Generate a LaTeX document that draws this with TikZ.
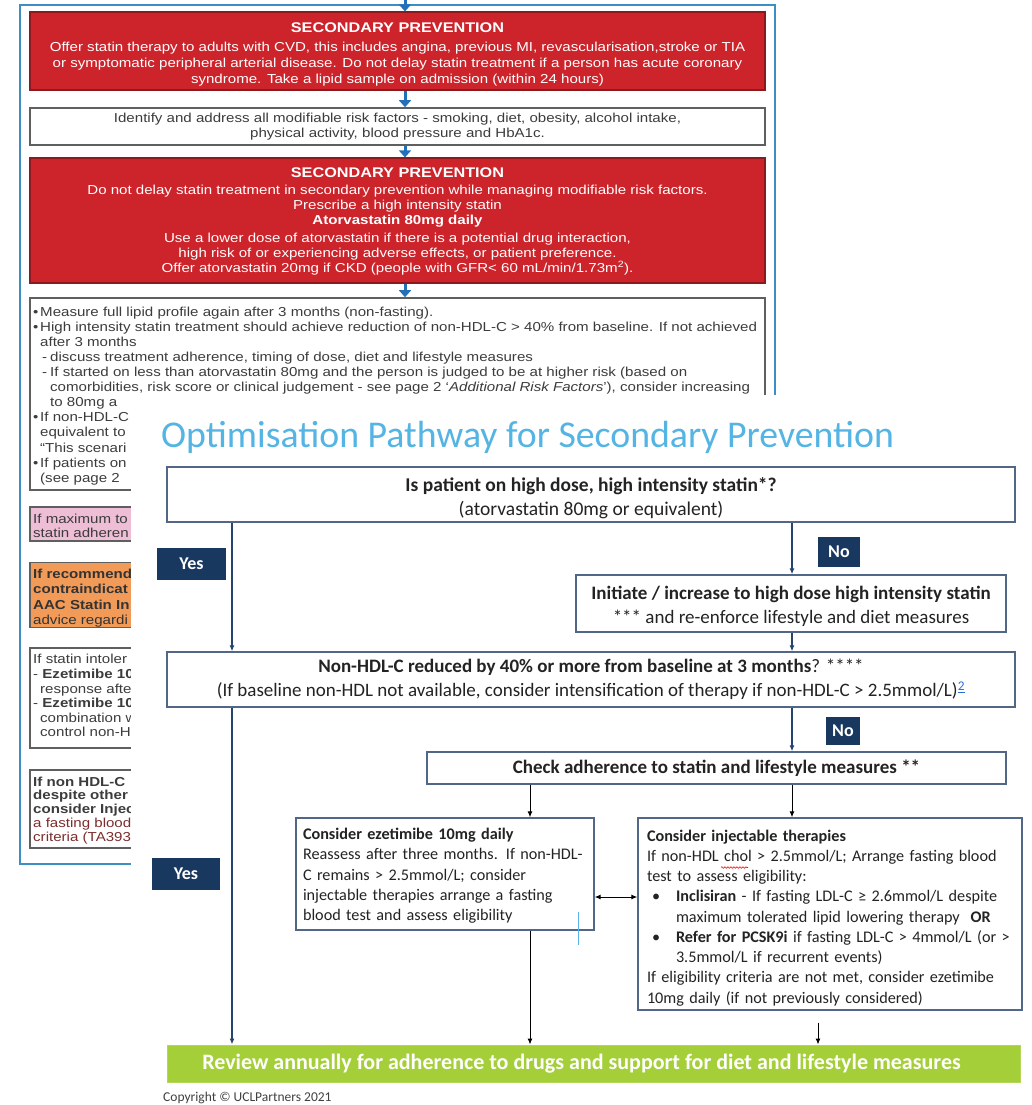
\documentclass[tikz,border=0pt]{standalone}
\usepackage{fontspec}
\setmainfont{Carlito}
\newfontfamily\docfont[FakeStretch=1.16]{Liberation Sans}
\usetikzlibrary{arrows.meta,calc,decorations.pathmorphing}

% palette
\definecolor{panelred}{RGB}{205,35,42}
\definecolor{panelrededge}{RGB}{140,25,30}
\definecolor{docarrowblue}{RGB}{36,112,182}
\definecolor{docframeblue}{RGB}{62,142,198}
\definecolor{docedge}{RGB}{95,95,95}
\definecolor{doctext}{RGB}{60,60,60}
\definecolor{notepink}{RGB}{238,190,214}
\definecolor{noteorange}{RGB}{242,155,88}
\definecolor{notered}{RGB}{125,45,45}
\definecolor{titleblue}{RGB}{84,180,228}
\definecolor{boxedge}{RGB}{82,102,136}
\definecolor{tagnavy}{RGB}{24,56,96}
\definecolor{railblue}{RGB}{38,68,110}
\definecolor{reviewgreen}{RGB}{165,207,57}
\definecolor{bodytext}{RGB}{35,35,35}
\definecolor{linkblue}{RGB}{40,110,220}
\definecolor{cursorblue}{RGB}{90,180,235}

\newcommand\fsz[2]{\fontsize{#1}{#2}\selectfont}
% raises the first line box so the text block sits a little lower
\newcommand\toppad[1]{\rule{0pt}{#1}}

\tikzset{
  docframe/.style={draw=docframeblue, line width=1.5pt},
  docarrow/.style={draw=docarrowblue, line width=3pt, -{Triangle[length=7pt,width=12pt]}},
  redpanel/.style={fill=panelred, draw=panelrededge, line width=1.2pt, minimum width=735pt, inner sep=0pt},
  notepanel/.style={draw=docedge, line width=1.6pt, minimum width=735pt, inner sep=0pt, fill=white},
  doctitle/.style={font=\docfont\bfseries\fsz{14}{16}, text=white, inner sep=0pt, anchor=base},
  redtext/.style={font=\docfont\fsz{13}{16}, text=white, align=center, inner sep=0pt, anchor=north},
  doctextc/.style={font=\docfont\fsz{13}{15}, text=doctext, align=center, inner sep=0pt, anchor=north},
  doctextl/.style={font=\docfont\fsz{13}{15}, text=doctext, align=left, inner sep=0pt, anchor=north west},
  stepbox/.style={draw=boxedge, line width=1.3pt, fill=white, inner sep=0pt, text=bodytext, align=center},
  notebox/.style={stepbox, align=left, font=\fsz{16.2}{20.25}},
  tag/.style={fill=tagnavy, text=white, font=\bfseries\fsz{18}{20}, inner sep=0pt},
  rail/.style={draw=railblue, line width=1.3pt, -{Latex[length=6pt,width=5pt]}},
  link/.style={draw=black, line width=1pt, -{Latex[length=6pt,width=5pt]}},
  reviewbox/.style={fill=reviewgreen, draw=reviewgreen!85!white, line width=1pt, text=white,
    font=\bfseries\fsz{22}{24}, minimum width=853pt, minimum height=37pt, inner sep=0pt},
  spellmark/.style={draw=red, line width=0.6pt, decorate, decoration={snake, amplitude=0.8pt, segment length=3pt}},
}

\begin{document}
\begin{tikzpicture}[x=1pt,y=-1pt]
\useasboundingbox (0,0) rectangle (1031,1105);

% ---------- underlying guideline sheet ----------
\draw[docframe] (20,5) rectangle (775,864);
\coordinate (docaxis) at (405,0);
\coordinate (sheettop) at (405,-2);

\node[redpanel, minimum height=78pt] (sp1) at (397.5,51) {};
\node[doctitle] (sp1title) at (397.5,33) {SECONDARY PREVENTION};
\node[redtext] (sp1body) at (397.5,39.8) {\strut Offer statin therapy to adults with CVD, this includes angina, previous MI, revascularisation,stroke or TIA\\
or symptomatic peripheral arterial disease. Do not delay statin treatment if a person has acute coronary\\
syndrome. Take a lipid sample on admission (within 24 hours)};

\node[notepanel, minimum height=37pt] (riskf) at (397.5,126.5) {};
\node[doctextc] (riskftext) at (397.5,111.5) {\strut Identify and address all modifiable risk factors - smoking, diet, obesity, alcohol intake,\\
physical activity, blood pressure and HbA1c.};

\node[redpanel, minimum height=125pt] (sp2) at (397.5,220.5) {};
\node[doctitle] (sp2title) at (397.5,177) {SECONDARY PREVENTION};
\node[redtext, font=\docfont\fsz{13}{15}] (sp2body) at (397.5,183.5) {\strut Do not delay statin treatment in secondary prevention while managing modifiable risk factors.\\
Prescribe a high intensity statin\\
\textbf{Atorvastatin 80mg daily}\\[3pt]
Use a lower dose of atorvastatin if there is a potential drug interaction,\\
high risk of or experiencing adverse effects, or patient preference.\\
Offer atorvastatin 20mg if CKD (people with GFR< 60 mL/min/1.73m\textsuperscript{2}).};

\node[notepanel, minimum height=192pt] (lipid) at (397.5,394) {};
\node[doctextl, font=\docfont\fsz{13}{15.1}] (lipidtext) at (33,305.4) {\strut\makebox[7pt][l]{•}Measure full lipid profile again after 3 months (non-fasting).\\
\makebox[7pt][l]{•}High intensity statin treatment should achieve reduction of non-HDL-C > 40\% from baseline. If not achieved\\
\hspace*{7pt}after 3 months\\
\hspace*{9pt}\makebox[8pt][l]{-}discuss treatment adherence, timing of dose, diet and lifestyle measures\\
\hspace*{9pt}\makebox[8pt][l]{-}If started on less than atorvastatin 80mg and the person is judged to be at higher risk (based on\\
\hspace*{17pt}comorbidities, risk score or clinical judgement - see page 2 ‘\textit{Additional Risk Factors}’), consider increasing\\
\hspace*{17pt}to 80mg a\\
\makebox[7pt][l]{•}If non-HDL-C\\
\hspace*{7pt}equivalent to\\
\hspace*{7pt}“This scenari\\
\makebox[7pt][l]{•}If patients on\\
\hspace*{7pt}(see page 2};

\node[notepanel, fill=notepink, minimum height=34pt] (maxtol) at (397.5,524) {};
\node[doctextl, font=\docfont\fsz{13}{14}] (maxtoltext) at (33,513) {\strut If maximum to\\ statin adheren};

\node[notepanel, fill=noteorange, minimum height=65pt] (recom) at (397.5,595) {};
\node[doctextl, font=\docfont\fsz{13}{15.5}, text=black!80] (recomtext) at (33,567) {\strut\textbf{If recommend}\\ \textbf{contraindicat}\\ \textbf{AAC Statin In}\\ advice regardi};

\node[notepanel, minimum height=100pt] (intol) at (397.5,698) {};
\node[doctextl, font=\docfont\fsz{13}{14.6}] (intoltext) at (33,653.5) {\strut If statin intoler\\ - \textbf{Ezetimibe 10}\\ \hspace*{7pt}response afte\\ - \textbf{Ezetimibe 10}\\ \hspace*{7pt}combination w\\ \hspace*{7pt}control non-H};

\node[notepanel, minimum height=78pt] (inj) at (397.5,809) {};
\node[doctextl, font=\docfont\fsz{13}{13.8}] (injtext) at (33,776.3) {\strut\textbf{If non HDL-C}\\ \textbf{despite other}\\ \textbf{consider Injec}\\ \textcolor{notered}{a fasting blood}\\ \textcolor{notered}{criteria (TA393}};

\draw[docarrow] (sheettop -| docaxis) -- (sp1.north -| docaxis);
\draw[docarrow] (sp1.south -| docaxis) -- (riskf.north -| docaxis);
\draw[docarrow] (riskf.south -| docaxis) -- (sp2.north -| docaxis);
\draw[docarrow] (sp2.south -| docaxis) -- (lipid.north -| docaxis);

% ---------- optimisation pathway sheet ----------
\fill[white] (131,395) rectangle (1031,1105);

\node[anchor=west, inner sep=0pt, text=titleblue, font=\fsz{37.8}{40}] (title) at (161,437) {Optimisation Pathway for Secondary Prevention};

\node[stepbox, minimum width=848pt, minimum height=55pt, font=\fsz{19.5}{24}] (qstatin) at (591,494.5)
  {\toppad{22pt}\textbf{Is patient on high dose, high intensity statin*?}\\ (atorvastatin 80mg or equivalent)};

\node[stepbox, minimum width=430pt, minimum height=57pt, font=\fsz{19}{24}] (intensify) at (791,603.5)
  {\toppad{20pt}\textbf{Initiate / increase to high dose high intensity statin}\\ *** and re-enforce lifestyle and diet measures};

\node[stepbox, minimum width=848pt, minimum height=55pt, font=\fsz{19}{24}] (nonhdl) at (591,679.5)
  {\textbf{Non-HDL-C reduced by 40\% or more from baseline at 3 months}? ****\\
   (If baseline non-HDL not available, consider intensification of therapy if non-HDL-C > 2.5mmol/L)\textsuperscript{\textcolor{linkblue}{\underline{2}}}};

\node[stepbox, minimum width=579pt, minimum height=32pt, font=\fsz{19}{24}] (adhere) at (716.5,768)
  {\textbf{Check adherence to statin and lifestyle measures **}};

\node[notebox, minimum width=298pt, minimum height=112pt, text width=284pt] (ezet) at (445,874)
  {\toppad{15pt}\textbf{Consider ezetimibe 10mg daily}\\
   Reassess after three months. If non-HDL-\\
   C remains > 2.5mmol/L; consider\\
   injectable therapies arrange a fasting\\
   blood test and assess eligibility};

\node[notebox, minimum width=384pt, minimum height=192pt, text width=366pt] (inject) at (830,914)
  {\toppad{19pt}\textbf{Consider injectable therapies}\\
   If non-HDL chol > 2.5mmol/L; Arrange fasting blood\\
   test to assess eligibility:\\
   \hspace*{5pt}\makebox[24pt][l]{•}\textbf{Inclisiran} - If fasting LDL-C ≥ 2.6mmol/L despite\\
   \hspace*{29pt}maximum tolerated lipid lowering therapy\ \ \textbf{OR}\\
   \hspace*{5pt}\makebox[24pt][l]{•}\textbf{Refer for PCSK9i} if fasting LDL-C > 4mmol/L (or >\\
   \hspace*{29pt}3.5mmol/L if recurrent events)\\
   If eligibility criteria are not met, consider ezetimibe\\
   10mg daily (if not previously considered)};
% spelling-check squiggle under "chol"
\draw[spellmark] (721,867.5) -- (748,867.5);

\node[reviewbox] (review) at (593.5,1063.5)
  {Review annually for adherence to drugs and support for diet and lifestyle measures\hspace*{24pt}};

\node[anchor=base west, inner sep=0pt, font=\fsz{13.5}{15}, text=black!75] (copyright) at (163,1101)
  {Copyright © UCLPartners 2021};

% decision tags
\node[tag, minimum width=69pt, minimum height=32pt] (yesA) at (191.5,564) {Yes};
\node[tag, minimum width=42pt, minimum height=30pt] (noA) at (839,552) {No};
\node[tag, minimum width=34pt, minimum height=28pt] (noB) at (843,731) {No};
\node[tag, minimum width=68pt, minimum height=32pt] (yesB) at (186,874) {Yes};

% connectors
\coordinate (leftrail) at (232,0);
\coordinate (rightrail) at (792,0);
\coordinate (midrail) at (530,0);
\coordinate (injrail) at (818,0);
\coordinate (pairrow) at (0,897);

\draw[rail] (qstatin.south -| leftrail) -- (nonhdl.north -| leftrail);
\draw[rail] (qstatin.south -| rightrail) -- (intensify.north -| rightrail);
\draw[rail] (intensify.south -| rightrail) -- (nonhdl.north -| rightrail);
\draw[rail] (nonhdl.south -| rightrail) -- (adhere.north -| rightrail);
\draw[rail] (nonhdl.south -| leftrail) -- (review.north -| leftrail);
\draw[link] (adhere.south -| midrail) -- (ezet.north -| midrail);
\draw[link] (adhere.south -| rightrail) -- (inject.north -| rightrail);
\draw[link] (ezet.south -| midrail) -- (review.north -| midrail);
\draw[link] ($(inject.south -| injrail)+(0,12)$) -- (review.north -| injrail);
\draw[link, {Latex[length=6pt,width=5pt]}-{Latex[length=6pt,width=5pt]}] (ezet.east |- pairrow) -- (inject.west |- pairrow);

% text cursor left in the ezetimibe box
\draw[cursorblue, line width=1pt] (578,912) -- (578,945);
\end{tikzpicture}
\end{document}
